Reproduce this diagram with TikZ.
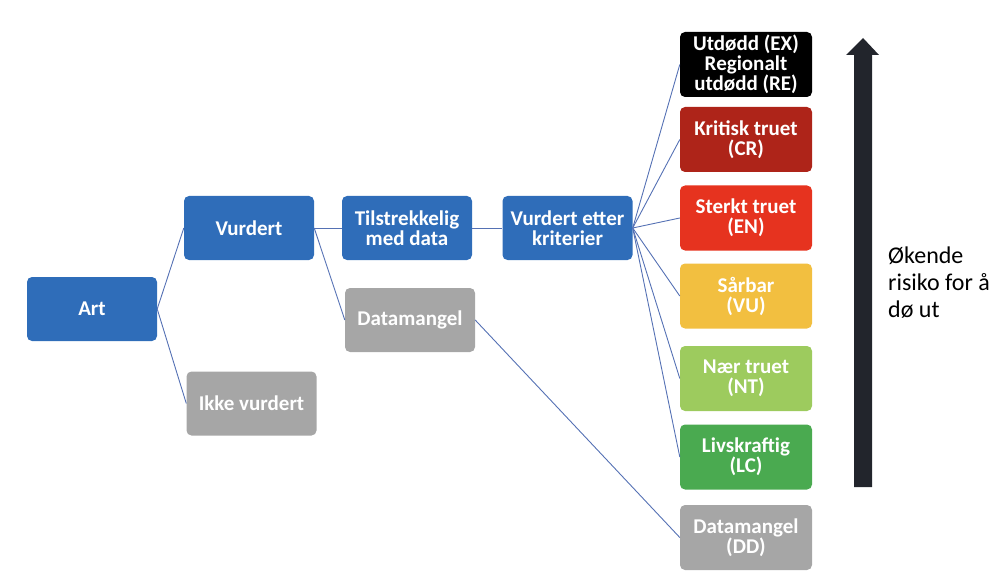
\documentclass[tikz,border=0pt]{standalone}
\usepackage{fontspec}
\setmainfont{Carlito}
\definecolor{bblue}{HTML}{2F6DB9}
\definecolor{bgray}{HTML}{A6A6A6}
\definecolor{bcr}{HTML}{AE2419}
\definecolor{ben}{HTML}{E6331F}
\definecolor{bvu}{HTML}{F2BF40}
\definecolor{bnt}{HTML}{9DCB5E}
\definecolor{blc}{HTML}{4AAA50}
\definecolor{lineblue}{HTML}{5571B4}
\definecolor{arrowc}{HTML}{22252C}
\begin{document}
\begin{tikzpicture}[x=1pt,y=-1pt,
  box/.style={rounded corners=5pt, minimum width=130pt, minimum height=64pt, inner sep=0pt,
    align=center, text=white, font=\fontsize{21}{20}\selectfont\bfseries},
  rbox/.style={box, minimum width=132pt, minimum height=65pt},
  conn/.style={draw=lineblue, line width=0.9pt}]
\useasboundingbox (0,0) rectangle (1006,572);
\node[box, fill=bblue] (art) at (92,309) {Art};
\node[box, fill=bblue] (vurd) at (249,228) {Vurdert};
\node[box, fill=bgray] (ikke) at (251.5,403.5) {Ikke vurdert};
\node[box, fill=bblue] (tils) at (407,228) {Tilstrekkelig\\med data};
\node[box, fill=bgray] (dm) at (410,320) {Datamangel};
\node[box, fill=bblue] (vek) at (567.5,228) {Vurdert etter\\kriterier};
\node[rbox, fill=black] (ex) at (746,64.5) {Utdødd (EX)\\Regionalt\\utdødd (RE)};
\node[rbox, fill=bcr] (cr) at (746,139.5) {Kritisk truet\\(CR)};
\node[rbox, fill=ben] (en) at (746,218) {Sterkt truet\\(EN)};
\node[rbox, fill=bvu] (vu) at (746,296) {Sårbar\\(VU)};
\node[rbox, fill=bnt] (nt) at (746,378.5) {Nær truet\\(NT)};
\node[rbox, fill=blc] (lc) at (746,457) {Livskraftig\\(LC)};
\node[rbox, fill=bgray] (dd) at (746,537.5) {Datamangel\\(DD)};
\draw[conn] (art.east) -- (vurd.west);
\draw[conn] (art.east) -- (ikke.west);
\draw[conn] (vurd.east) -- (tils.west);
\draw[conn] (vurd.east) -- (dm.west);
\draw[conn] (tils.east) -- (vek.west);
\foreach \t in {ex,cr,en,vu,nt,lc} \draw[conn] (vek.east) -- (\t.west);
\draw[conn] (dm.east) -- (dd.west);
% risk arrow
\fill[arrowc] (854,487) -- (872,487) -- (872,55) -- (879,55) -- (863,38) -- (846,55) -- (854,55) -- cycle;
\node[anchor=north west, align=left, inner sep=0pt, font=\fontsize{24}{27}\selectfont] (risk) at (888,247) {Økende\\risiko for å\\dø ut};
\end{tikzpicture}
\end{document}
